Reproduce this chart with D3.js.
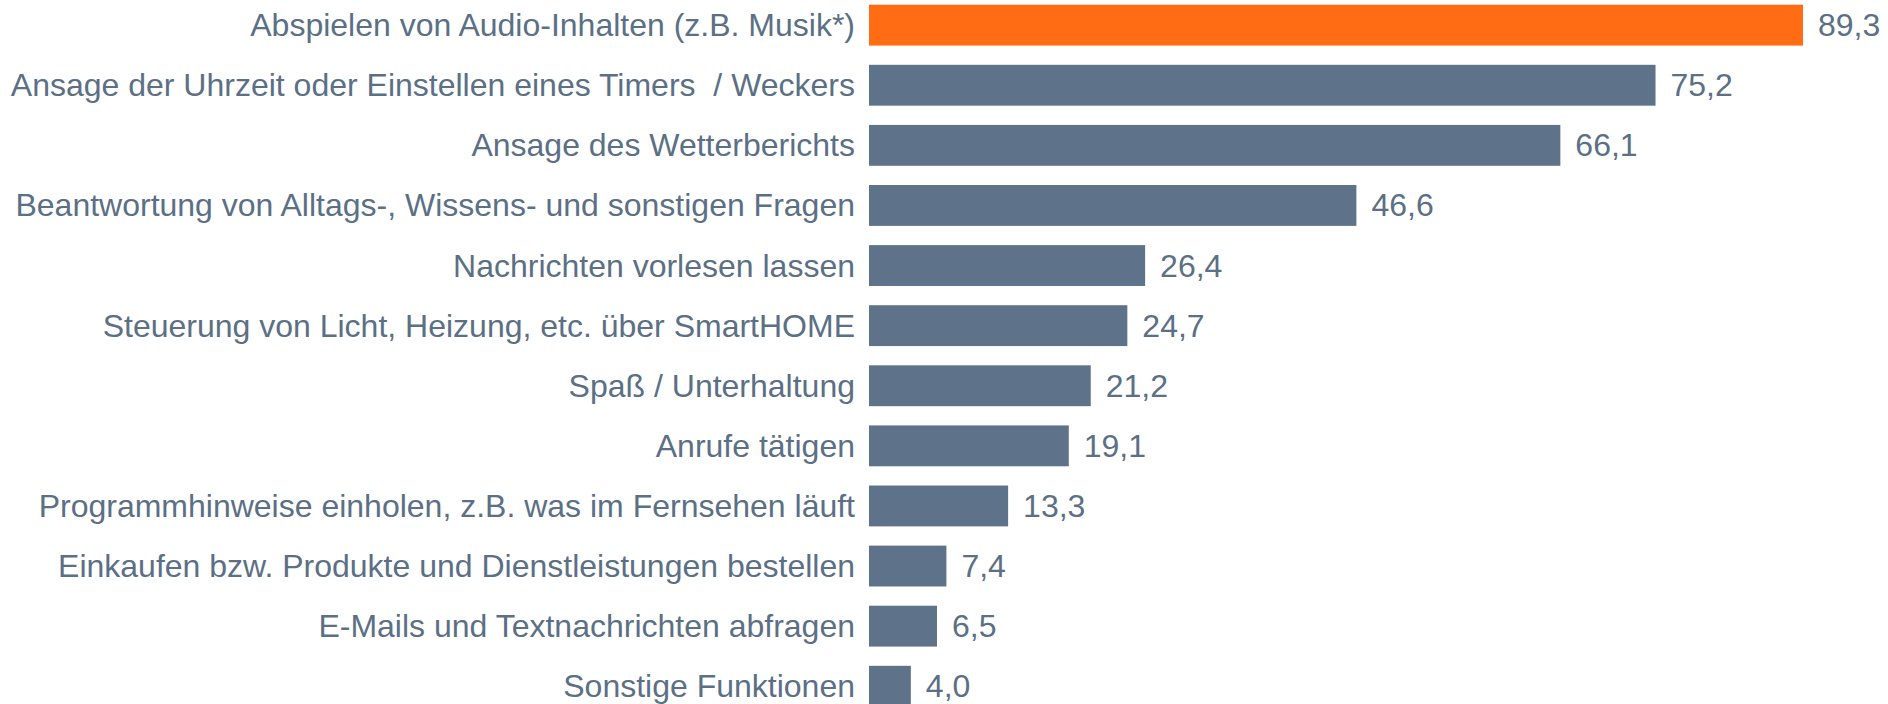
<!DOCTYPE html>
<html>
<head>
<meta charset="utf-8">
<script src="https://cdn.jsdelivr.net/npm/d3@7"></script>
<style>
  html, body { margin: 0; padding: 0; background: #ffffff; }
  svg { display: block; }
  text { white-space: pre; }
</style>
</head>
<body>
<svg id="chart" width="1888" height="704"></svg>
<script>
// Nutzung von Sprachassistenten – Anteil in Prozent
const categories = [
  "Abspielen von Audio-Inhalten (z.B. Musik*)",
  "Ansage der Uhrzeit oder Einstellen eines Timers  / Weckers",
  "Ansage des Wetterberichts",
  "Beantwortung von Alltags-, Wissens- und sonstigen Fragen",
  "Nachrichten vorlesen lassen",
  "Steuerung von Licht, Heizung, etc. über SmartHOME",
  "Spaß / Unterhaltung",
  "Anrufe tätigen",
  "Programmhinweise einholen, z.B. was im Fernsehen läuft",
  "Einkaufen bzw. Produkte und Dienstleistungen bestellen",
  "E-Mails und Textnachrichten abfragen",
  "Sonstige Funktionen"
];
const values = [89.3, 75.2, 66.1, 46.6, 26.4, 24.7, 21.2, 19.1, 13.3, 7.4, 6.5, 4.0];
const highlighted = [true, false, false, false, false, false, false, false, false, false, false, false];

const colorHighlight = "#ff6c14";
const colorBar = "#5e7389";
const colorText = "#5b6f85";

const svg = d3.select("#chart");
const barLeft = 869;
const rowStep = 60.1;
const rowStart = -4.9;

const x = d3.scaleLinear().domain([0, 89.3]).range([barLeft, 1803]);
const y = d3.scaleBand()
  .domain(categories)
  .range([rowStart, rowStart + rowStep * categories.length])
  .paddingInner(0.32)
  .paddingOuter(0.16);

const rows = svg.selectAll("g.row")
  .data(categories.map((c, i) => ({ c, v: values[i], h: highlighted[i] })))
  .join("g")
  .attr("class", "row");

rows.append("rect")
  .attr("x", x(0))
  .attr("y", d => y(d.c))
  .attr("width", d => x(d.v) - x(0))
  .attr("height", y.bandwidth())
  .attr("fill", d => d.h ? colorHighlight : colorBar);

rows.append("text")
  .attr("x", x(0) - 14)
  .attr("y", d => y(d.c) + y.bandwidth() / 2)
  .attr("text-anchor", "end")
  .attr("dominant-baseline", "central")
  .attr("font-family", "Liberation Sans, Arial, sans-serif")
  .attr("font-size", 32)
  .attr("fill", colorText)
  .text(d => d.c);

rows.append("text")
  .attr("x", d => x(d.v) + 15)
  .attr("y", d => y(d.c) + y.bandwidth() / 2)
  .attr("text-anchor", "start")
  .attr("dominant-baseline", "central")
  .attr("font-family", "Liberation Sans, Arial, sans-serif")
  .attr("font-size", 32)
  .attr("fill", colorText)
  .text(d => d3.format(".1f")(d.v).replace(".", ","));
</script>
</body>
</html>
